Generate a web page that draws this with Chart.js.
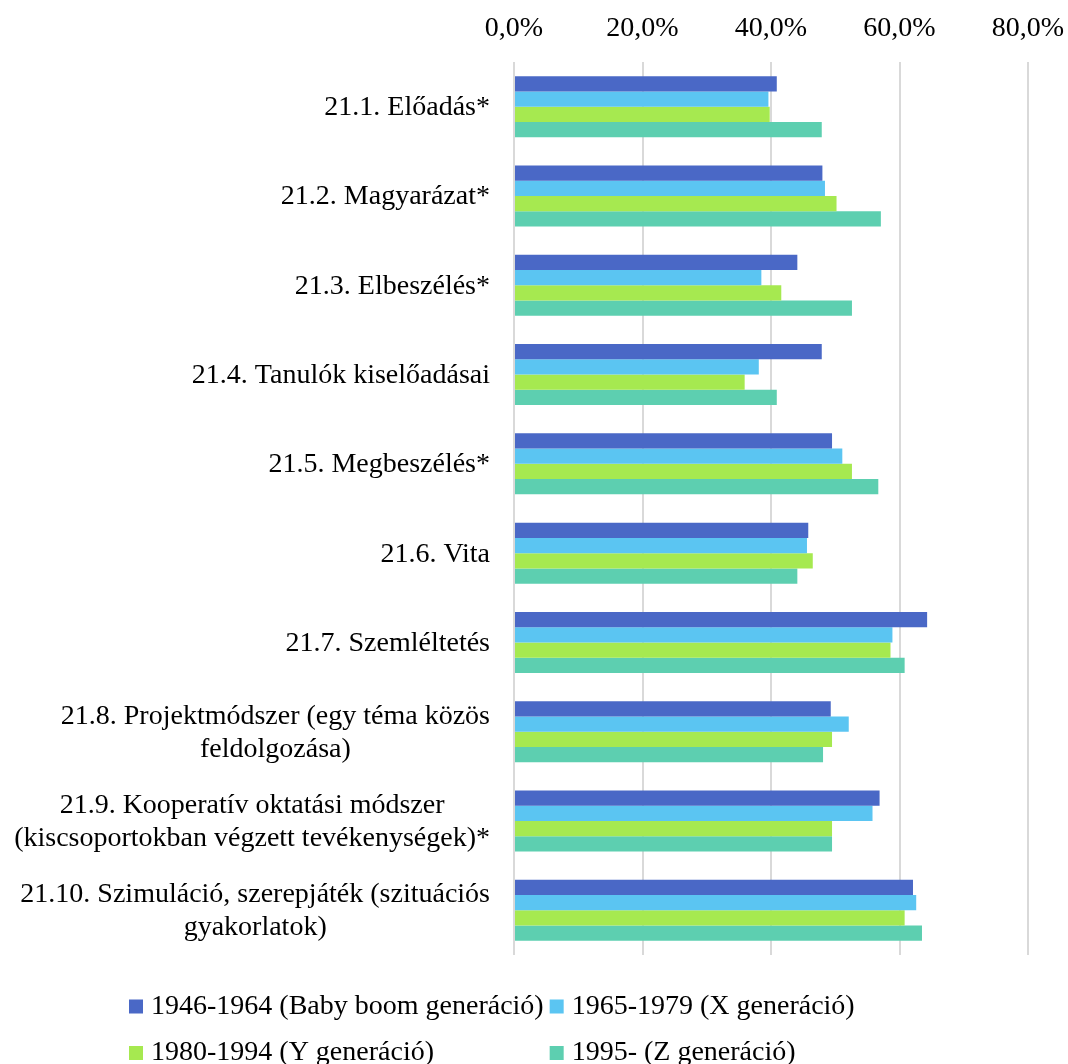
<!DOCTYPE html>
<html lang="hu">
<head>
<meta charset="utf-8">
<title>Oktatási módszerek generációnként</title>
<script src="https://cdn.jsdelivr.net/npm/chart.js@4/dist/chart.umd.min.js"></script>
<style>
  html, body { margin: 0; padding: 0; background: #ffffff; }
  #wrap { width: 1068px; height: 1064px; }
  canvas { display: block; }
</style>
</head>
<body>
<div id="wrap"><canvas id="chart" width="1068" height="1064"></canvas></div>
<script>
// Category labels (multi-line ones as arrays of lines)
const categories = [
  ['21.1. Előadás*'],
  ['21.2. Magyarázat*'],
  ['21.3. Elbeszélés*'],
  ['21.4. Tanulók kiselőadásai'],
  ['21.5. Megbeszélés*'],
  ['21.6. Vita'],
  ['21.7. Szemléltetés'],
  ['21.8. Projektmódszer (egy téma közös', 'feldolgozása)'],
  ['21.9. Kooperatív oktatási módszer', '(kiscsoportokban végzett tevékenységek)*'],
  ['21.10. Szimuláció, szerepjáték (szituációs', 'gyakorlatok)']
];

// Series names
const seriesNames = [
  '1946-1964 (Baby boom generáció)',
  '1965-1979 (X generáció)',
  '1980-1994 (Y generáció)',
  '1995- (Z generáció)'
];

// Share of respondents per method, in percent
const babyBoom = [40.9, 48.0, 44.1, 47.9, 49.5, 45.8, 64.3, 49.3, 56.9, 62.1];
const genX     = [39.6, 48.4, 38.5, 38.1, 51.1, 45.6, 58.9, 52.1, 55.8, 62.6];
const genY     = [39.8, 50.2, 41.6, 35.9, 52.6, 46.5, 58.6, 49.5, 49.5, 60.8];
const genZ     = [47.9, 57.1, 52.6, 40.9, 56.7, 44.1, 60.8, 48.1, 49.5, 63.5];

// Axis ticks
const tickValues = [0, 20, 40, 60, 80];

const seriesColors = ['#4A68C6', '#5BC5F2', '#A6E950', '#5DCFB0'];
const FONT = '"Liberation Serif", "Times New Roman", serif';
const FONT_SIZE = 28;

const fmtPct = v => v.toFixed(1).replace('.', ',') + '%';

// Category labels: block right-aligned next to the axis, lines centred within the block
const categoryLabels = {
  id: 'categoryLabels',
  afterDraw(chart) {
    const yScale = chart.scales.y;
    const ctx = chart.ctx;
    const right = chart.chartArea.left - 24;
    const lineH = 33;
    ctx.save();
    ctx.font = `${FONT_SIZE}px ${FONT}`;
    ctx.fillStyle = '#000000';
    ctx.textAlign = 'center';
    ctx.textBaseline = 'middle';
    chart.data.labels.forEach((lines, i) => {
      const y = yScale.getPixelForTick(i) + 1;
      const w = Math.max(...lines.map(l => ctx.measureText(l).width));
      const cx = right - w / 2;
      lines.forEach((l, k) => {
        ctx.fillText(l, cx, y + (k - (lines.length - 1) / 2) * lineH);
      });
    });
    ctx.restore();
  }
};

// Two-column legend under the plot
const generationLegend = {
  id: 'generationLegend',
  afterDraw(chart) {
    const ctx = chart.ctx;
    const ds = chart.data.datasets;
    const box = 14, gapText = 8, gapCol = 6;
    ctx.save();
    ctx.font = `${FONT_SIZE}px ${FONT}`;
    ctx.textAlign = 'left';
    ctx.textBaseline = 'middle';
    const col0W = Math.max(ctx.measureText(ds[0].label).width, ctx.measureText(ds[2].label).width);
    const cols = [129, 129 + box + gapText + col0W + gapCol];
    const rows = [1006.5, 1053];
    ds.forEach((d, i) => {
      const x = cols[i % 2];
      const y = rows[Math.floor(i / 2)];
      ctx.fillStyle = d.backgroundColor;
      ctx.fillRect(x, y - box / 2, box, box);
      ctx.fillStyle = '#000000';
      ctx.fillText(d.label, x + box + gapText, y);
    });
    ctx.restore();
  }
};

const seriesData = [babyBoom, genX, genY, genZ];

new Chart(document.getElementById('chart'), {
  type: 'bar',
  data: {
    labels: categories,
    datasets: seriesData.map((vals, i) => ({
      label: seriesNames[i],
      data: vals,
      backgroundColor: seriesColors[i],
      borderWidth: 0,
      categoryPercentage: 0.683,
      barPercentage: 1.0
    }))
  },
  options: {
    indexAxis: 'y',
    responsive: false,
    animation: false,
    devicePixelRatio: 1,
    layout: { padding: { top: 0, right: 40, bottom: 109, left: 0 } },
    plugins: {
      legend: { display: false },
      tooltip: { enabled: false }
    },
    scales: {
      x: {
        position: 'top',
        min: 0,
        max: 80,
        afterBuildTicks(scale) {
          scale.ticks = tickValues.map(v => ({ value: v }));
        },
        afterFit(scale) {
          scale.height = 62;
          scale.paddingLeft = 0;
          scale.paddingRight = 0;
        },
        border: { display: false },
        grid: { color: '#D9D9D9', lineWidth: 2, drawTicks: false },
        ticks: {
          padding: 17,
          color: '#000000',
          font: { family: FONT, size: FONT_SIZE },
          callback: v => fmtPct(v)
        }
      },
      y: {
        afterFit(scale) { scale.width = 514; },
        border: { display: false },
        grid: { display: false, drawTicks: false },
        ticks: { display: false }
      }
    }
  },
  plugins: [categoryLabels, generationLegend]
});
</script>
</body>
</html>
